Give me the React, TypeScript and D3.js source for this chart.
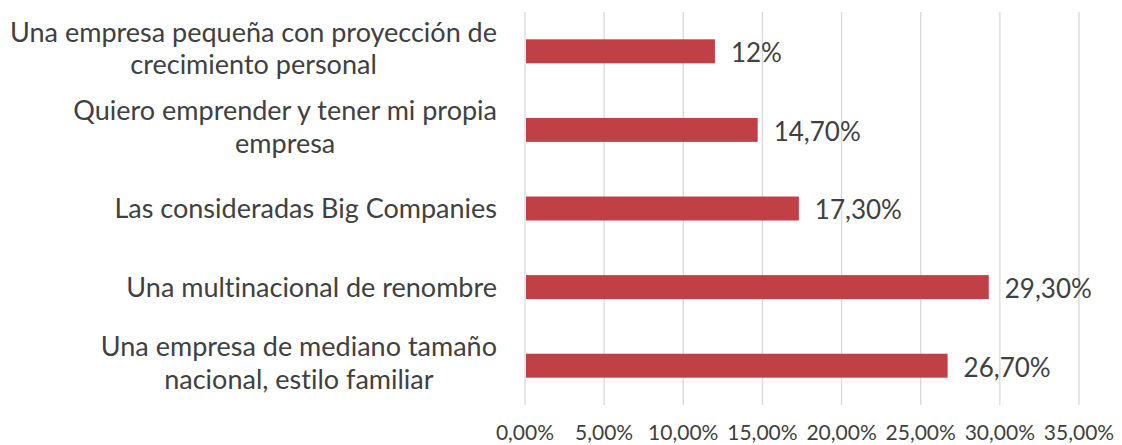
import React, { useEffect, useRef } from "react";
import * as d3 from "d3";

const categories: string[][] = [
  ["Una empresa pequeña con proyección de", "crecimiento personal"],
  ["Quiero emprender y tener mi propia", "empresa"],
  ["Las consideradas Big Companies"],
  ["Una multinacional de renombre"],
  ["Una empresa de mediano tamaño", "nacional, estilo familiar"],
];
const values: number[] = [12, 14.7, 17.3, 29.3, 26.7];
const valueLabels: string[] = ["12%", "14,70%", "17,30%", "29,30%", "26,70%"];
const tickValues: number[] = [0, 5, 10, 15, 20, 25, 30, 35];
const tickLabels: string[] = ["0,00%", "5,00%", "10,00%", "15,00%", "20,00%", "25,00%", "30,00%", "35,00%"];

const W = 1122;
const H = 445;
const FONT = "Lato, 'Open Sans', sans-serif";

export default function App() {
  const ref = useRef<SVGSVGElement | null>(null);

  useEffect(() => {
    const svg = d3.select(ref.current);
    svg.selectAll("*").remove();
    svg.style("font-variant-ligatures", "none");

    const x = d3.scaleLinear().domain([0, 35]).range([525, 1079]);
    const y = d3
      .scaleBand<number>()
      .domain(d3.range(categories.length))
      .range([12, 405])
      .paddingInner(0.695)
      .paddingOuter(0.3475);

    // gridlines
    svg
      .append("g")
      .selectAll("line")
      .data(tickValues)
      .join("line")
      .attr("x1", (d) => x(d))
      .attr("x2", (d) => x(d))
      .attr("y1", 12)
      .attr("y2", 405)
      .attr("stroke", "#d9d9d9")
      .attr("stroke-width", 1.3);

    // bars
    svg
      .append("g")
      .selectAll("rect")
      .data(values)
      .join("rect")
      .attr("x", x(0) + 1)
      .attr("y", (_, i) => y(i)!)
      .attr("width", (d) => x(d) - x(0) - 1)
      .attr("height", y.bandwidth())
      .attr("fill", "#c04045");

    // value labels
    svg
      .append("g")
      .selectAll("text")
      .data(values)
      .join("text")
      .attr("x", (d) => x(d) + 16)
      .attr("y", (_, i) => y(i)! + y.bandwidth() / 2 + 1.5)
      .attr("dy", "0.36em")
      .attr("font-family", FONT)
      .attr("font-size", 26)
      .attr("fill", "#404040")
      .text((_, i) => valueLabels[i]);

    // tick labels
    svg
      .append("g")
      .selectAll("text")
      .data(tickValues)
      .join("text")
      .attr("x", (d) => x(d))
      .attr("y", 432)
      .attr("dy", "0.36em")
      .attr("text-anchor", "middle")
      .attr("font-family", FONT)
      .attr("font-size", 21)
      .attr("fill", "#404040")
      .text((_, i) => tickLabels[i]);

    // category labels: block right-aligned, lines centered within block
    const lineH = 32.5;
    const rightEdge = 497;
    categories.forEach((lines, i) => {
      const shift = lines.length > 1 ? -3 : 0;
      const cy = y(i)! + y.bandwidth() / 2 + shift;
      const g = svg.append("g");
      const texts = g
        .selectAll("text")
        .data(lines)
        .join("text")
        .attr("y", (_, j) => cy + (j - (lines.length - 1) / 2) * lineH)
        .attr("dy", "0.36em")
        .attr("text-anchor", "middle")
        .attr("font-family", FONT)
        .attr("font-size", 27)
        .attr("fill", "#404040")
        .text((d) => d);
      let maxW = 0;
      texts.each(function () {
        maxW = Math.max(maxW, (this as SVGTextElement).getComputedTextLength());
      });
      texts.attr("x", rightEdge - maxW / 2);
    });
  }, []);

  return (
    <svg
      ref={ref}
      width={W}
      height={H}
      style={{ position: "absolute", left: 0, top: 0, background: "#fff" }}
    />
  );
}
